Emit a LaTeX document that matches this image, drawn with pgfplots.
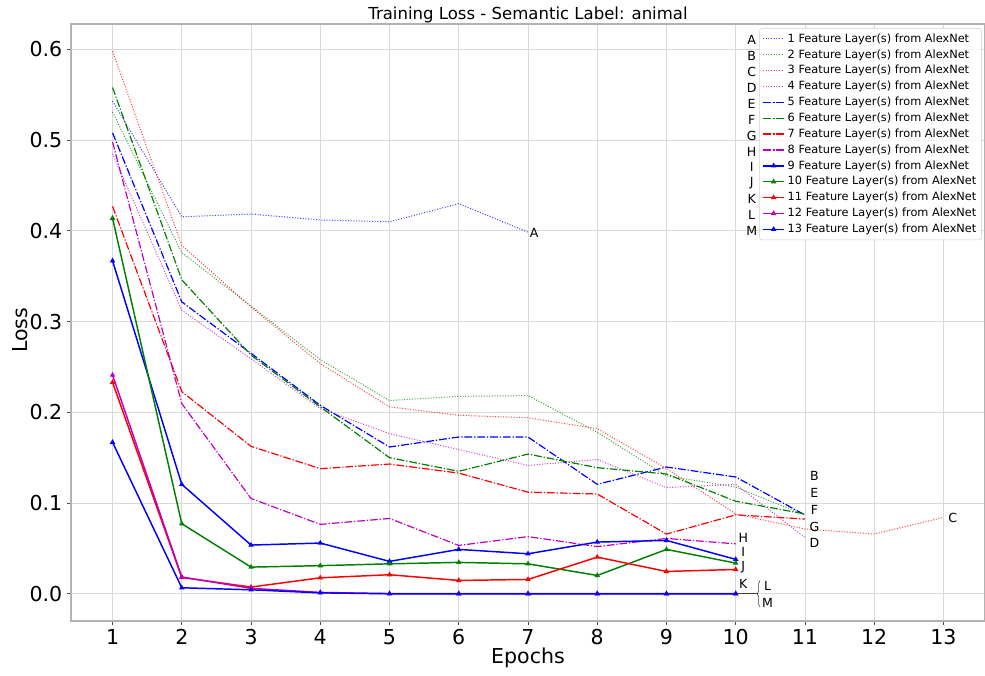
\documentclass[border=0pt]{standalone}
\usepackage{pgfplots}
\pgfplotsset{compat=1.18}
\usepackage{fontspec}
\setmainfont{DejaVu Sans}
\usetikzlibrary{decorations.pathreplacing}
\definecolor{mb}{rgb}{0,0,1}
\definecolor{mg}{rgb}{0,0.5,0}
\definecolor{mr}{rgb}{1,0,0}
\definecolor{mm}{rgb}{0.75,0,0.75}
\begin{document}
\begin{tikzpicture}
\pgfplotsset{
  dotsty/.style={line width=0.75pt, dash pattern=on 0.75pt off 1.25pt, opacity=0.75},
  dashdotsty/.style={line width=0.9pt, dash pattern=on 5.8pt off 1.45pt on 0.9pt off 1.45pt},
  solidsty/.style={line width=1.1pt, mark=triangle*, mark size=1.3pt, mark options={solid}},
}
\begin{axis}[
  at={(0,0)}, anchor=south west,
  scale only axis, width=685.5pt, height=447.75pt,
  xmin=0.4, xmax=13.6, ymin=-0.03, ymax=0.628,
  xtick={1,...,13},
  ytick={0,0.1,0.2,0.3,0.4,0.5,0.6},
  yticklabel style={/pgf/number format/fixed, /pgf/number format/fixed zerofill, /pgf/number format/precision=1},
  /pgf/number format/assume math mode=true,
  ticklabel style={font=\fontsize{15.4}{18}\selectfont},
  xtick pos=left, ytick pos=left, tick align=outside,
  major tick length=3pt, tick style={black!70, line width=0.6pt},
  grid=major, grid style={gray!30, line width=0.6pt},
  axis line style={gray!60, line width=0.8pt},
  xlabel={Epochs}, ylabel={Loss},
  xlabel style={font=\fontsize{15.4}{18}\selectfont, at={(axis description cs:0.5,-0.062)}, anchor=center},
  ylabel style={font=\fontsize{15.4}{18}\selectfont, at={(axis description cs:-0.056,0.487)}, anchor=center},
  clip=false,
  legend cell align=left,
  legend image code/.code={\draw[mark repeat=2,mark phase=2,#1] plot coordinates {(0pt,0pt) (8pt,0pt) (16pt,0pt)};},
  legend style={at={(0.9967,0.9933)}, anchor=north east, draw=gray!35, rounded corners=2pt,
    fill=white, fill opacity=0.8, text opacity=1, font=\fontsize{8.5}{10}\selectfont,
    row sep=0pt, inner xsep=2pt, inner ysep=2pt,
    nodes={inner ysep=1.5pt, text height=6.9pt, text depth=2pt}},
]
\addplot[mb, dotsty] coordinates {(1,0.543) (2,0.4155) (3,0.4185) (4,0.412) (5,0.410) (6,0.430) (7,0.3985)};
\addlegendentry{1 Feature Layer(s) from AlexNet}
\addplot[mg, dotsty] coordinates {(1,0.531) (2,0.376) (3,0.317) (4,0.258) (5,0.213) (6,0.2176) (7,0.2184) (8,0.178) (9,0.130) (10,0.1176) (11,0.087)};
\addlegendentry{2 Feature Layer(s) from AlexNet}
\addplot[mr, dotsty] coordinates {(1,0.598) (2,0.384) (3,0.316) (4,0.2537) (5,0.206) (6,0.1967) (7,0.194) (8,0.182) (9,0.138) (10,0.088) (11,0.0714) (12,0.0659) (13,0.0842)};
\addlegendentry{3 Feature Layer(s) from AlexNet}
\addplot[mm, dotsty] coordinates {(1,0.485) (2,0.3125) (3,0.259) (4,0.204) (5,0.1765) (6,0.159) (7,0.1415) (8,0.148) (9,0.117) (10,0.1206) (11,0.0622)};
\addlegendentry{4 Feature Layer(s) from AlexNet}
\addplot[mb, dashdotsty] coordinates {(1,0.508) (2,0.3217) (3,0.265) (4,0.2077) (5,0.1618) (6,0.1728) (7,0.1728) (8,0.1206) (9,0.1397) (10,0.1287) (11,0.0868)};
\addlegendentry{5 Feature Layer(s) from AlexNet}
\addplot[mg, dashdotsty] coordinates {(1,0.558) (2,0.346) (3,0.263) (4,0.206) (5,0.150) (6,0.135) (7,0.154) (8,0.139) (9,0.132) (10,0.102) (11,0.088)};
\addlegendentry{6 Feature Layer(s) from AlexNet}
\addplot[mr, dashdotsty] coordinates {(1,0.427) (2,0.2228) (3,0.1625) (4,0.1379) (5,0.143) (6,0.133) (7,0.112) (8,0.110) (9,0.0658) (10,0.087) (11,0.0824)};
\addlegendentry{7 Feature Layer(s) from AlexNet}
\addplot[mm, dashdotsty] coordinates {(1,0.498) (2,0.2096) (3,0.105) (4,0.0765) (5,0.083) (6,0.0533) (7,0.063) (8,0.052) (9,0.061) (10,0.055)};
\addlegendentry{8 Feature Layer(s) from AlexNet}
\addplot[mb, solidsty] coordinates {(1,0.367) (2,0.1206) (3,0.0537) (4,0.0559) (5,0.0357) (6,0.0489) (7,0.0441) (8,0.057) (9,0.0588) (10,0.0379)};
\addlegendentry{9 Feature Layer(s) from AlexNet}
\addplot[mg, solidsty] coordinates {(1,0.414) (2,0.0772) (3,0.0294) (4,0.031) (5,0.033) (6,0.0346) (7,0.033) (8,0.0202) (9,0.0489) (10,0.0338)};
\addlegendentry{10 Feature Layer(s) from AlexNet}
\addplot[mr, solidsty] coordinates {(1,0.233) (2,0.018) (3,0.0074) (4,0.0176) (5,0.021) (6,0.0147) (7,0.0158) (8,0.0404) (9,0.0246) (10,0.0268)};
\addlegendentry{11 Feature Layer(s) from AlexNet}
\addplot[mm, solidsty] coordinates {(1,0.241) (2,0.0185) (3,0.006) (4,0.0015) (5,0.0002) (6,0.0001) (7,0.0001) (8,0.0001) (9,0.0001) (10,0.0001)};
\addlegendentry{12 Feature Layer(s) from AlexNet}
\addplot[mb, solidsty] coordinates {(1,0.167) (2,0.0066) (3,0.0044) (4,0.001) (5,0) (6,0) (7,0) (8,0) (9,0) (10,0)};
\addlegendentry{13 Feature Layer(s) from AlexNet}

\node[font=\fontsize{12.4}{14}\selectfont, anchor=center] at (rel axis cs:0.5,1.016) {Training Loss - Semantic Label: animal};
% end-of-line labels
\begin{scope}[every node/.style={font=\fontsize{9.4}{11}\selectfont, inner sep=0pt, anchor=center}]
\node at (axis cs:7.089,0.398) {A};
\node at (axis cs:11.136,0.1297) {B};
\node at (axis cs:11.136,0.1115) {E};
\node at (axis cs:11.136,0.0927) {F};
\node at (axis cs:11.136,0.074) {G};
\node at (axis cs:11.136,0.0563) {D};
\node at (axis cs:13.135,0.0839) {C};
\node at (axis cs:10.109,0.0618) {H};
\node at (axis cs:10.109,0.0464) {I};
\node at (axis cs:10.109,0.0298) {J};
\node at (axis cs:10.109,0.011) {K};
\node at (axis cs:10.46,0.0083) {L};
\node at (axis cs:10.46,-0.0099) {M};
% legend letters
\node at (axis cs:10.23,0.6100) {A};
\node at (axis cs:10.23,0.5925) {B};
\node at (axis cs:10.23,0.5750) {C};
\node at (axis cs:10.23,0.5575) {D};
\node at (axis cs:10.23,0.5400) {E};
\node at (axis cs:10.23,0.5225) {F};
\node at (axis cs:10.23,0.5050) {G};
\node at (axis cs:10.23,0.4875) {H};
\node at (axis cs:10.23,0.4700) {I};
\node at (axis cs:10.23,0.4525) {J};
\node at (axis cs:10.23,0.4350) {K};
\node at (axis cs:10.23,0.4175) {L};
\node at (axis cs:10.23,0.4000) {M};
\end{scope}
\draw[black!75, line width=0.6pt] (axis cs:10,0) -- (axis cs:10.31,0);
\draw[black!75, line width=0.5pt, decorate, decoration={brace, amplitude=2pt}] (axis cs:10.35,-0.0145) -- (axis cs:10.35,0.0145);
\end{axis}
\pgfresetboundingbox
\path[use as bounding box] (-53.25pt,-40.5pt) rectangle (685.5pt,465.75pt);
\end{tikzpicture}
\end{document}
